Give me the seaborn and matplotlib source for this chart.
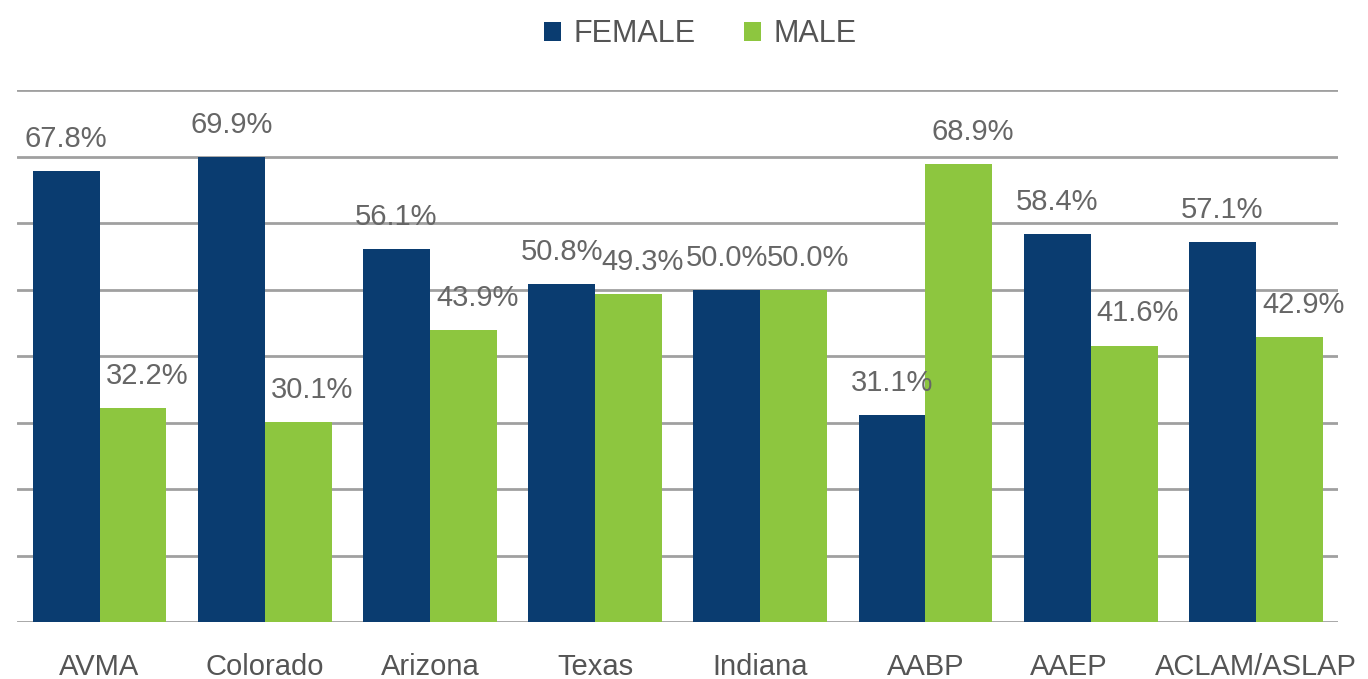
import matplotlib

matplotlib.use("Agg")

import matplotlib.pyplot as plt
import matplotlib.transforms as mtransforms
import pandas as pd
import seaborn as sns


GROUPS = ["AVMA", "Colorado", "Arizona", "Texas", "Indiana", "AABP", "AAEP", "ACLAM/ASLAP"]
FEMALE = [67.8, 69.9, 56.1, 50.8, 50.0, 31.1, 58.4, 57.1]
MALE = [32.2, 30.1, 43.9, 49.3, 50.0, 68.9, 41.6, 42.9]
SERIES = ["FEMALE", "MALE"]
GRID_TICKS = [0, 10, 20, 30, 40, 50, 60, 70, 80]

NAVY = "#0a3c70"
GREEN = "#8dc63f"
TEXT_GRAY = "#666666"
GRID_GRAY = "#a0a0a0"


def main():
    df = pd.DataFrame(
        {
            "Group": GROUPS * 2,
            "Gender": [SERIES[0]] * len(GROUPS) + [SERIES[1]] * len(GROUPS),
            "Pct": FEMALE + MALE,
        }
    )

    sns.set_style("white")
    plt.rcParams["font.family"] = ["Liberation Sans", "DejaVu Sans"]

    fig = plt.figure(figsize=(13.68, 6.79), dpi=100)
    ax = fig.add_axes([0.0124, 0.084, 0.966, 0.783])

    sns.barplot(
        data=df,
        x="Group",
        y="Pct",
        hue="Gender",
        palette={"FEMALE": NAVY, "MALE": GREEN},
        width=0.81,
        linewidth=0,
        saturation=1,
        ax=ax,
    )

    ax.set_ylim(0, 80)
    ax.set_xlim(-0.5, len(GROUPS) - 0.5)
    ax.set_yticks(GRID_TICKS)
    ax.set_yticklabels([])
    ax.yaxis.grid(True, color=GRID_GRAY, linewidth=2)
    ax.set_axisbelow(True)
    for side in ["top", "right", "left", "bottom"]:
        ax.spines[side].set_visible(False)
    ax.tick_params(axis="both", length=0)
    ax.tick_params(axis="x", pad=22, labelsize=21, labelcolor="#555555")
    ax.set_xlabel("")
    ax.set_ylabel("")

    # AAEP label sits a little left of its group in the original
    shift = mtransforms.ScaledTranslation(-22 / 100, 0, fig.dpi_scale_trans)
    for lbl in ax.get_xticklabels():
        if lbl.get_text() == "AAEP":
            lbl.set_transform(lbl.get_transform() + shift)

    # value labels above bars
    for container, offset in zip(ax.containers, [0, 10]):
        for bar in container:
            h = bar.get_height()
            ax.annotate(
                f"{h:.1f}%",
                (bar.get_x() + bar.get_width() / 2, h),
                xytext=(offset, 13),
                textcoords="offset points",
                ha="center",
                va="bottom",
                fontsize=21,
                color=TEXT_GRAY,
            )

    handles, labels = ax.get_legend_handles_labels()
    ax.legend_.remove()
    fig.legend(
        handles,
        labels,
        loc="upper center",
        bbox_to_anchor=(0.512, 1.012),
        ncol=2,
        frameon=False,
        fontsize=22,
        labelcolor="#555555",
        handlelength=0.55,
        handleheight=0.55,
        handletextpad=0.4,
        columnspacing=1.6,
    )

    fig.savefig("out.png", dpi=100)
    plt.close(fig)


if __name__ == "__main__":
    main()
